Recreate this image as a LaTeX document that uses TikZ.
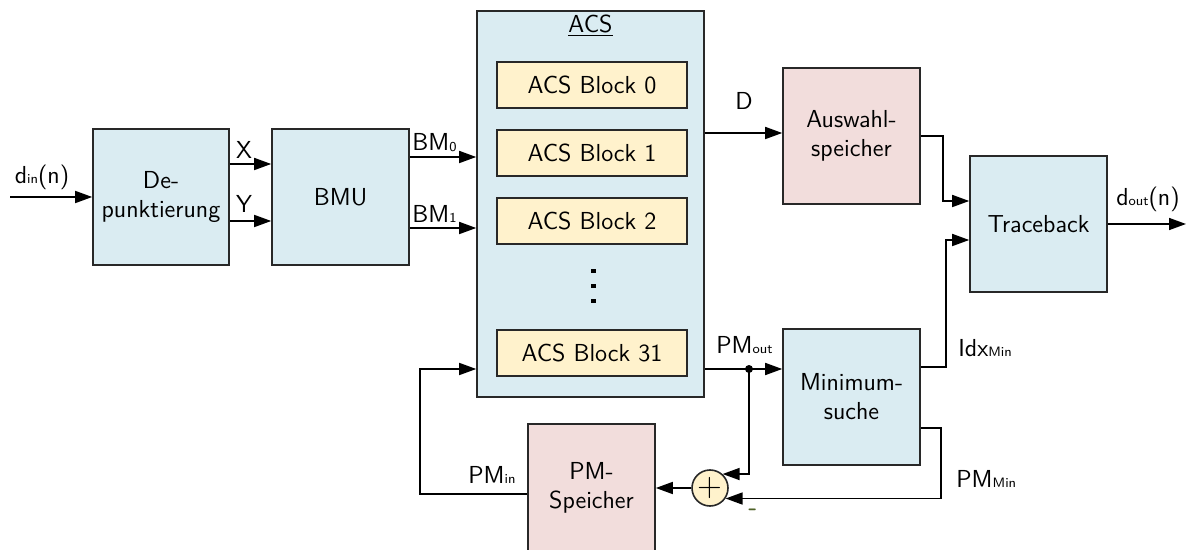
\documentclass[tikz,border=0pt]{standalone}
\usepackage{fontspec}
\usetikzlibrary{arrows.meta}
\definecolor{bluefill}{RGB}{218,236,242}
\definecolor{pinkfill}{RGB}{242,221,220}
\definecolor{yellowfill}{RGB}{255,242,204}
\definecolor{bordercol}{RGB}{40,40,40}
\definecolor{minusgreen}{RGB}{79,98,40}
\newcommand\lsub[1]{\raisebox{-0.4pt}{\fontsize{6.8}{7}\selectfont #1}}
\begin{document}
\begin{tikzpicture}[x=0.5pt,y=-0.5pt,
  font=\sffamily\fontsize{12.3}{14.5}\selectfont,
  box/.style={draw=bordercol, line width=0.8pt, inner sep=0pt, align=center},
  bluebox/.style={box, fill=bluefill, minimum width=68pt, minimum height=68pt},
  pinkbox/.style={box, fill=pinkfill, minimum width=68pt, minimum height=68pt},
  blockbox/.style={box, fill=yellowfill, minimum width=95pt, minimum height=23pt},
  arr/.style={line width=0.8pt, -{Triangle[length=8.5pt,width=6pt]}},
  lbl/.style={inner sep=0pt}
]
\useasboundingbox (0,0) rectangle (1187,550);
\clip (0,0) rectangle (1187,550);

% helper levels
\coordinate (yX) at (0,164);
\coordinate (yY) at (0,221);
\coordinate (yB0) at (0,157);
\coordinate (yB1) at (0,228);
\coordinate (yD) at (0,133);
\coordinate (yT1) at (0,201);
\coordinate (yT2) at (0,240);
\coordinate (yI) at (0,367);
\coordinate (yP) at (0,369);
\coordinate (yM) at (0,428);
\coordinate (yPin) at (0,494);
\coordinate (xL) at (420,0);
\coordinate (in0) at (10,197);
\coordinate (out) at (1186,224);
\coordinate (dot) at (749,369);

% boxes
\node[bluebox] (dep) at (161,197) {De-\\punktierung};
\node[bluebox, minimum width=68.5pt] (bmu) at (340.5,197) {BMU};
\node[box, fill=bluefill, minimum width=113.5pt, minimum height=193pt] (acs) at (590.5,204) {};
\node[lbl] (acst) at (590.5,26) {\underline{ACS}};
\node[blockbox] (b0) at (592,85) {ACS Block 0};
\node[blockbox] (b1) at (592,153) {ACS Block 1};
\node[blockbox] (b2) at (592,221) {ACS Block 2};
\foreach \yy in {271,286,301} \fill (590.5,\yy-2.2) rectangle (595.5,\yy+2.2);
\node[blockbox] (b31) at (592,353) {ACS Block 31};
\node[pinkbox, minimum width=68.5pt] (ausw) at (851.5,136) {Auswahl-\\speicher};
\node[bluebox, minimum width=68.5pt] (trace) at (1038.5,224) {Traceback};
\node[bluebox, minimum width=68.5pt] (mins) at (851.5,397) {Minimum-\\suche};
\node[pinkbox, minimum width=63.5pt, minimum height=64pt] (pms) at (591.5,488) {PM-\\Speicher};
\node[draw=bordercol, line width=0.8pt, fill=yellowfill, circle, minimum size=18pt, inner sep=0pt, font=\sffamily\fontsize{17}{17}\selectfont] (plus) at (710,488) {+};

% connectors
\draw[arr] (in0) -- (dep.west);
\draw[arr] (dep.east |- yX) -- (bmu.west |- yX);
\draw[arr] (dep.east |- yY) -- (bmu.west |- yY);
\draw[arr] (bmu.east |- yB0) -- (acs.west |- yB0);
\draw[arr] (bmu.east |- yB1) -- (acs.west |- yB1);
\draw[arr] (acs.east |- yD) -- (ausw.west |- yD);
\draw[arr] (ausw.east) -- ++(22,0) |- (trace.west |- yT1);
\draw[arr] (trace.east) -- (out);
\draw[arr] (mins.east |- yI) -- ++(25,0) |- (trace.west |- yT2);
\draw[arr] (acs.east |- yP) -- (mins.west |- yP);
\fill (dot) circle[radius=2pt];
\draw[arr] (dot) |- (plus.48);
\draw[arr] (mins.east |- yM) -- ++(20,0) |- (plus.-34);
\draw[arr] (plus.west) -- (pms.east);
\draw[arr] (pms.west |- yPin) -| (xL |- yP) -- (acs.west |- yP);

% labels
\node[lbl] (ldin) at (42,177) {d\lsub{in}(n)};
\node[lbl] (lx) at (244,150) {X};
\node[lbl] (ly) at (244,204) {Y};
\node[lbl, anchor=west] (lb0) at (412,143) {BM\lsub{0}};
\node[lbl, anchor=west] (lb1) at (412,214) {BM\lsub{1}};
\node[lbl] (ld) at (744,101) {D};
\node[lbl] (ldout) at (1148,199) {d\lsub{out}(n)};
\node[lbl, anchor=west] (lpmout) at (716,345) {PM\lsub{out}};
\node[lbl, anchor=west] (lidx) at (958,348) {Idx\lsub{Min}};
\node[lbl, anchor=west] (lpmmin) at (956,479) {PM\lsub{Min}};
\node[lbl, anchor=west] (lpmin) at (468,475) {PM\lsub{in}};
\node[lbl, text=minusgreen, font=\sffamily\bfseries\fontsize{12.3}{14}\selectfont] (lminus) at (753,512) {-};
\end{tikzpicture}
\end{document}
